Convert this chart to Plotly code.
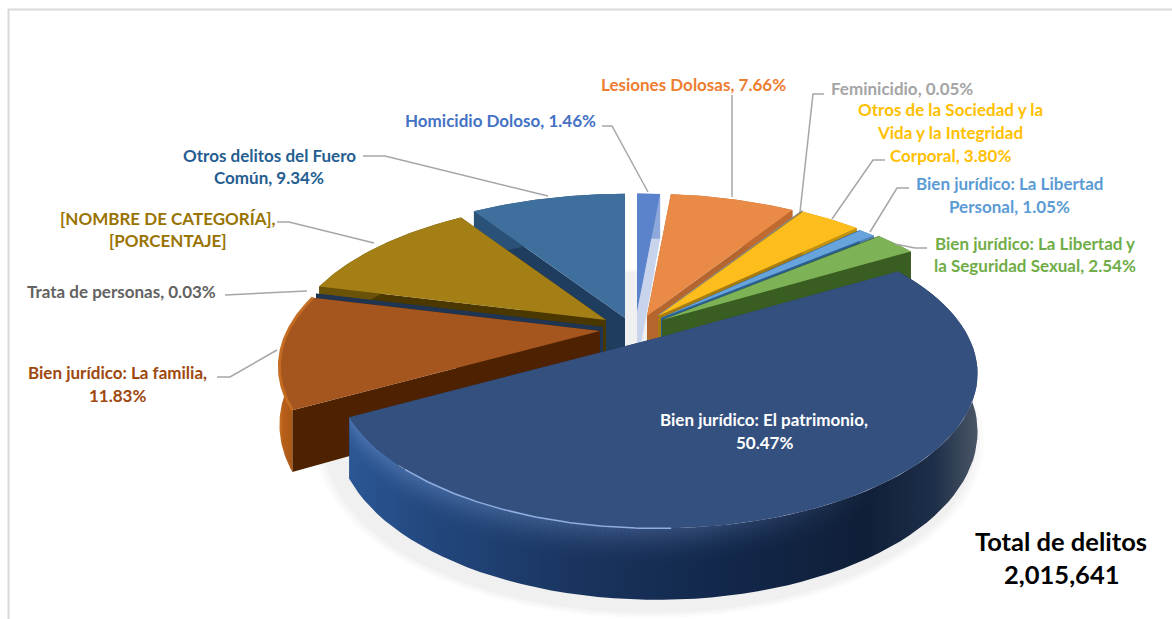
import numpy as np
import plotly.graph_objects as go

# ---- data (pie order, clockwise from 12 o'clock) ----
categories = ["Homicidio Doloso", "Lesiones Dolosas", "Feminicidio",
              "Otros de la Sociedad y la Vida y la Integridad Corporal",
              "Bien jurídico: La Libertad Personal",
              "Bien jurídico: La Libertad y la Seguridad Sexual",
              "Bien jurídico: El patrimonio", "Bien jurídico: La familia",
              "Trata de personas", "[NOMBRE DE CATEGORÍA]", "Otros delitos del Fuero Común"]
values = [1.46, 7.66, 0.05, 3.80, 1.05, 2.54, 50.47, 11.83, 0.03, 11.77, 9.34]

# ---- styles ----
top_colors = ["#5A83CB", "#EA8A47", "#A5A5A5", "#FDBD1C", "#68A4DC", "#7DB356",
              "#34507F", "#A5561F", "#3A3A3A", "#A37F16", "#3F709D"]
cut_colors = ["#C8D4EC", "#B5662F", "#8A8A8A", "#A67C10", "#2A5F92", "#3A5D22",
              "#1E3A66", "#4E2200", "#1F3552", "#4A3800", "#1F3D5E"]
rim_colors = ["#8FA8DC", "#C06A30", "#8A8A8A", "#C09010", "#4A80B5", "#3A5D22",
              "#1E3A66", "#C4691E", "#333333", "#6A5208", "#2A5278"]
# where the tip of each exploded slice sits, and how large the slice is drawn
tip_x = [637, 647, 658, 658, 661, 662, 657, 600, 603, 606, 625]
tip_y = [312, 316, 315, 316, 318, 320, 338, 331, 327, 320, 318]
radius = [310, 320, 316, 316, 316, 322, 312, 312, 312, 312, 325]
draw_order = [10, 0, 1, 2, 3, 4, 5, 9, 8, 7, 6]
TILT = 0.47
PERSP = 0.23
DEPTH = 55

def point(tx, ty, r, ang, drop=0.0):
    u, v = np.sin(ang), -np.cos(ang)
    s = 1 / (1 - PERSP * v)
    return tx + r * u * s, ty + r * TILT * v * s + drop * s

def arc(tx, ty, r, a0, a1, drop=0.0, n=80):
    return point(tx, ty, r, np.linspace(a0, a1, n), drop)

cum = np.concatenate([[0], np.cumsum(values)]) / sum(values) * 2 * np.pi
fig = go.Figure()

def poly(xs, ys, color=None, grad=None):
    kw = dict(x=list(xs), y=list(ys), mode="lines", fill="toself", line=dict(width=0),
              hoverinfo="skip", showlegend=False)
    if grad:
        kw["fillgradient"] = dict(type="horizontal", colorscale=grad)
    else:
        kw["fillcolor"] = color
    fig.add_trace(go.Scatter(**kw))

# soft shadow below the whole pie
for grow, alpha in [(1.03, 0.015), (1.018, 0.02), (1.005, 0.025)]:
    sx, sy = arc(650, 348, 316 * grow, 0, 2 * np.pi, DEPTH, 160)
    poly(sx, sy, f"rgba(0,0,0,{alpha})")

for i in draw_order:
    a0, a1 = cum[i], cum[i + 1]
    tx, ty, r = tip_x[i], tip_y[i], radius[i]
    ax, ay = arc(tx, ty, r, a0, a1)
    bx, by = arc(tx, ty, r, a0, a1, DEPTH)
    # cut faces
    for a in (a0, a1):
        ex, ey = point(tx, ty, r, a)
        fx, fy = point(tx, ty, r, a, DEPTH)
        poly([tx, ex, fx, tx, tx], [ty, ey, fy, ty + DEPTH, ty], cut_colors[i])
    # outer wall
    rx = np.concatenate([ax, bx[::-1], ax[:1]])
    ry = np.concatenate([ay, by[::-1], ay[:1]])
    if i == 6:
        poly(rx, ry, grad=[[0, "#2B5794"], [0.12, "#23487F"], [0.35, "#1A3560"], [0.6, "#12274A"],
                           [0.82, "#101F38"], [0.93, "#1D2E48"], [1, "#4A5666"]])
        # rounded edge: lighter shading fading down from the top face
        for d1 in np.arange(28, 0, -2.0):
            al = 0.055 * (1 - d1 / 30)
            ux, uy = arc(tx, ty, r, a0, a1, 0)
            wx, wy = arc(tx, ty, r, a0, a1, d1)
            poly(np.concatenate([ux, wx[::-1], ux[:1]]), np.concatenate([uy, wy[::-1], uy[:1]]),
                 grad=[[0, f"rgba(130,165,225,{al:.3f})"], [0.55, f"rgba(130,165,225,{al * 0.7:.3f})"],
                       [0.85, "rgba(130,165,225,0)"], [1, "rgba(130,165,225,0)"]])
    elif i == 7:
        poly(rx, ry, grad=[[0, "#CC7426"], [0.1, "#B8601A"], [1, "#8A4510"]])
    else:
        poly(rx, ry, rim_colors[i])
    # top face
    poly(np.concatenate([[tx], ax, [tx]]), np.concatenate([[ty], ay, [ty]]), top_colors[i])
    if i == 7:
        fig.add_trace(go.Scatter(x=ax, y=ay, mode="lines", hoverinfo="skip", showlegend=False,
                                 line=dict(color="#C46C22", width=3)))

# highlight on the front rim of the largest slice
i = 6
hx, hy = arc(tip_x[i], tip_y[i], radius[i], np.deg2rad(178), np.deg2rad(222))
fig.add_trace(go.Scatter(x=hx, y=hy, mode="lines", hoverinfo="skip", showlegend=False,
                         line=dict(color="#8FAEE0", width=1.5)))

# ---- leader lines ----
leaders = [
    ([602, 612, 648], [126, 126, 192]),
    ([732, 732], [95, 197]),
    ([824, 813, 800], [94, 94, 212]),
    ([885, 873, 832], [160, 160, 219]),
    ([909, 897, 870], [188, 188, 232]),
    ([927, 915, 895], [248, 248, 244]),
    ([363, 385, 548], [156, 156, 196]),
    ([277, 289, 374], [222, 222, 243]),
    ([225, 307], [295, 291]),
    ([217, 230, 277], [377, 377, 350]),
]
for lx, ly in leaders:
    fig.add_trace(go.Scatter(x=lx, y=ly, mode="lines", hoverinfo="skip", showlegend=False,
                             line=dict(color="#A6A6A6", width=1.5)))

# ---- labels: text lines, centre x, y of each line, colour ----
labels = [
    (["Homicidio Doloso, 1.46%"], 500, [120], "#4472C4"),
    (["Lesiones Dolosas, 7.66%"], 693, [84], "#ED7D31"),
    (["Feminicidio, 0.05%"], 902, [88], "#A5A5A5"),
    (["Otros de la Sociedad y la", "Vida y la Integridad", "Corporal, 3.80%"], 950, [109, 132, 155], "#FFC000"),
    (["Bien jurídico: La Libertad", "Personal, 1.05%"], 1009, [183, 206], "#5B9BD5"),
    (["Bien jurídico: La Libertad y", "la Seguridad Sexual, 2.54%"], 1035, [243, 265], "#70AD47"),
    (["Bien jurídico: El patrimonio,", "50.47%"], 764, [419, 442], "#FFFFFF"),
    (["Bien jurídico: La familia,", "11.83%"], 117, [372, 395], "#9E480E"),
    (["Trata de personas, 0.03%"], 121, [291], "#636363"),
    (["[NOMBRE DE CATEGORÍA],", "[PORCENTAJE]"], 168, [218, 240], "#997300"),
    (["Otros delitos del Fuero", "Común, 9.34%"], 269, [155, 177], "#255E91"),
]
annotations = []
for lines, cx, ys, col in labels:
    for t, yy in zip(lines, ys):
        annotations.append(dict(text=f"<b>{t}</b>", x=cx, y=yy, xref="x", yref="y", showarrow=False,
                                xanchor="center", yanchor="middle",
                                font=dict(family="Lato", size=17, color=col)))
for t, yy in [("Total de delitos", 541), ("2,015,641", 574)]:
    annotations.append(dict(text=f"<b>{t}</b>", x=1061, y=yy, xref="x", yref="y", showarrow=False,
                            xanchor="center", yanchor="middle",
                            font=dict(family="Lato", size=25.5, color="#000000")))

frame = [
    dict(type="line", x0=8, x1=1172, y0=9.5, y1=9.5, xref="x", yref="y", line=dict(color="#D9D9D9", width=2)),
    dict(type="line", x0=8.5, x1=8.5, y0=9, y1=619, xref="x", yref="y", line=dict(color="#D9D9D9", width=2)),
]

fig.update_layout(width=1172, height=619, margin=dict(l=0, r=0, t=0, b=0),
                  paper_bgcolor="white", plot_bgcolor="white", showlegend=False,
                  xaxis=dict(range=[0, 1172], visible=False, fixedrange=True),
                  yaxis=dict(range=[619, 0], visible=False, fixedrange=True),
                  annotations=annotations, shapes=frame)
fig.write_html("out.html", config={"displayModeBar": False},
               post_script="document.body.style.margin='0';")
